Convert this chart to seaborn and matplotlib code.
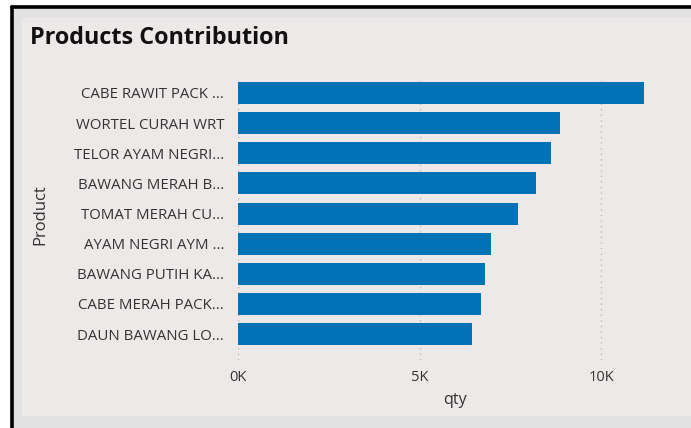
import matplotlib
matplotlib.use("Agg")
import matplotlib.pyplot as plt
import seaborn as sns
import pandas as pd
from matplotlib.patches import Rectangle
from matplotlib.lines import Line2D

products = ["CABE RAWIT PACK ...", "WORTEL CURAH WRT", "TELOR AYAM NEGRI...",
            "BAWANG MERAH B...", "TOMAT MERAH CU...", "AYAM NEGRI AYM ...",
            "BAWANG PUTIH KA...", "CABE MERAH PACK...", "DAUN BAWANG LO..."]
qty = [11180, 8860, 8620, 8210, 7720, 6970, 6810, 6690, 6450]
xticks = [0, 5000, 10000]
xticklabels = ["0K", "5K", "10K"]

df = pd.DataFrame({"Product": products, "qty": qty})

sns.set_theme(style="white")
plt.rcParams['font.family'] = ['Open Sans', 'DejaVu Sans']

W, H = 691, 428
fig = plt.figure(figsize=(W / 100, H / 100), dpi=100)
fig.patch.set_facecolor("#E3E2E2")

# panel background and black frame
fig.add_artist(Rectangle((22 / W, 1 - 416 / H), 1 - 22 / W, (416 - 18) / H,
                         transform=fig.transFigure, facecolor="#EDE9E8", edgecolor="none", zorder=0))
fig.add_artist(Line2D([11.5 / W, 11.5 / W], [0, 1 - 6.5 / H], transform=fig.transFigure,
                      color="black", lw=2.6, zorder=1))
fig.add_artist(Line2D([11.5 / W, 1], [1 - 6.5 / H, 1 - 6.5 / H], transform=fig.transFigure,
                      color="black", lw=2.6, zorder=1))
fig.add_artist(Rectangle((0, 0), 10 / W, 1, transform=fig.transFigure,
                         facecolor="white", edgecolor="none", zorder=0.5))
fig.add_artist(Rectangle((0, 1 - 5 / H), 1, 5 / H, transform=fig.transFigure,
                         facecolor="white", edgecolor="none", zorder=0.5))

ax_left, ax_right = 238 / W, 673.6 / W
ax_top, ax_bot = 1 - 77 / H, 1 - 360 / H
ax = fig.add_axes([ax_left, ax_bot, ax_right - ax_left, ax_top - ax_bot])
ax.set_facecolor("none")

sns.barplot(data=df, x="qty", y="Product", color="#0072B5", width=0.73,
            saturation=1, edgecolor="none", linewidth=0, ax=ax, zorder=3)

ax.set_xlim(0, 12000)
ax.set_ylim(8.86, -0.53)
ax.set_xticks(xticks)
ax.set_xticklabels(xticklabels)
for x in xticks:
    ax.axvline(x, color="#BDBBB9", lw=1, ls=(0, (1, 3)), zorder=1)
for s in ax.spines.values():
    s.set_visible(False)
ax.tick_params(axis="y", length=0, labelsize=10.8, labelcolor="#333333", pad=10)
ax.tick_params(axis="x", length=0, labelsize=10.5, labelcolor="#333333", pad=7)
ax.set_xlabel("qty", fontsize=11.5, color="#333333")
ax.set_ylabel("Product", fontsize=12, color="#333333")
fig.canvas.draw()
ax.xaxis.set_label_coords((455 - 238) / (673.6 - 238), -(400 - 360) / (360 - 77))
ax.xaxis.label.set_va("center")
ax.yaxis.set_label_coords(-(238 - 40) / (673.6 - 238), (360 - 215) / (360 - 77))
ax.yaxis.label.set_va("center")

fig.text(30 / W, 1 - 38.5 / H, "Products Contribution", fontsize=16.8, fontweight="bold",
         color="#111111", va="center", ha="left")

fig.savefig("out.png", dpi=100, facecolor=fig.get_facecolor())
